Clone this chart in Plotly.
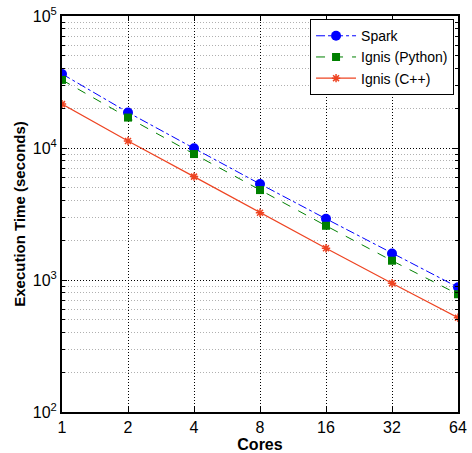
import plotly.graph_objects as go

# Execution time (seconds) versus number of cores
cores = [1, 2, 4, 8, 16, 32, 64]
spark = [36400, 18600, 9950, 5340, 2910, 1590, 881]
ignis_python = [32800, 17000, 9000, 4800, 2575, 1400, 780]
ignis_cpp = [21500, 11300, 6070, 3230, 1740, 944, 518]

x_ticks = [1, 2, 4, 8, 16, 32, 64]
y_ticks = [100, 1000, 10000, 100000]
y_tick_text = ["10<sup>2</sup>", "10<sup>3</sup>", "10<sup>4</sup>", "10<sup>5</sup>"]

FONT = "Liberation Sans, Arial, sans-serif"
DOTS = "1px,2px"

fig = go.Figure()
fig.add_trace(go.Scatter(
    x=cores, y=spark, name="Spark", mode="lines+markers",
    line=dict(color="#0000FF", width=1, dash="dashdot"),
    marker=dict(symbol="circle", size=10, color="#0000FF"),
))
fig.add_trace(go.Scatter(
    x=cores, y=ignis_python, name="Ignis (Python)", mode="lines+markers",
    line=dict(color="#008000", width=1, dash="dash"),
    marker=dict(symbol="square", size=8, color="#008000"),
))
fig.add_trace(go.Scatter(
    x=cores, y=ignis_cpp, name="Ignis (C++)", mode="lines+markers",
    line=dict(color="#EE4422", width=1.2),
    marker=dict(symbol="asterisk-open", size=7,
                line=dict(color="#EE4422", width=1.5)),
))

fig.update_layout(
    width=472, height=453,
    margin=dict(l=62, r=14, t=16, b=41),
    paper_bgcolor="white", plot_bgcolor="white",
    font=dict(family=FONT, size=16, color="black"),
    showlegend=True,
    legend=dict(
        x=0.99, y=0.992, xanchor="right", yanchor="top",
        bgcolor="white", bordercolor="black", borderwidth=1,
        font=dict(family=FONT, size=14, color="black"),
        tracegroupgap=0, itemwidth=40,
    ),
)

fig.update_xaxes(
    type="log", range=[0, 1.80618], automargin=False,
    tickvals=x_ticks, ticktext=[str(v) for v in x_ticks],
    tickfont=dict(size=16),
    showline=True, linecolor="black", linewidth=2, mirror="allticks",
    ticks="inside", ticklen=5, tickcolor="black",
    showgrid=True, gridcolor="black", griddash=DOTS, gridwidth=1,
    zeroline=False,
    title=dict(text="<b>Cores</b>", standoff=0, font=dict(size=16)),
)
fig.update_yaxes(
    type="log", range=[2, 5], automargin=False,
    tickvals=y_ticks, ticktext=y_tick_text,
    tickfont=dict(size=16),
    showline=True, linecolor="black", linewidth=2, mirror="allticks",
    ticks="inside", ticklen=5, tickcolor="black",
    showgrid=True, gridcolor="black", griddash=DOTS, gridwidth=1,
    minor=dict(dtick="D1", ticks="inside", ticklen=3, tickcolor="black",
               showgrid=True, gridcolor="#b0b0b0", griddash=DOTS, gridwidth=1),
    zeroline=False,
    title=dict(text="<b>Execution Time (seconds)</b>", standoff=4, font=dict(size=15)),
)

fig.write_html("out.html")
